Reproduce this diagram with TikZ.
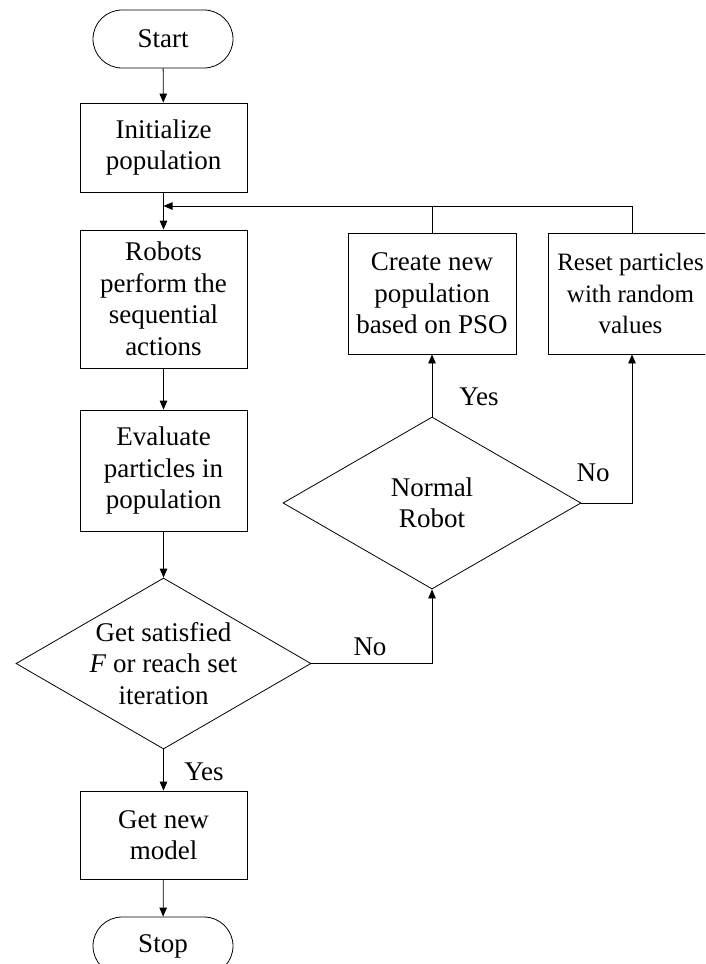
\documentclass[tikz,border=0pt]{standalone}
\usepackage{fontspec}
\setmainfont{Liberation Serif}
\usetikzlibrary{arrows.meta,shapes.geometric}

\begin{document}
\begin{tikzpicture}[x=1pt,y=-1pt,
  line width=0.8pt,
  every node/.style={font=\fontsize{27}{31.5}\selectfont},
  box/.style={draw, rectangle, minimum width=167pt, inner sep=0pt, align=center},
  terminal/.style={draw, rectangle, rounded corners=29pt, minimum width=140pt,
                   minimum height=58pt, inner sep=0pt},
  decision/.style={draw, diamond, inner sep=0pt},
  txt/.style={align=center, inner sep=0pt},
  flow/.style={-{Triangle[length=9pt,width=7.5pt]}}]

\useasboundingbox (0,0) rectangle (705,964);
\clip (0,0) rectangle (705,964);

% main column
\node[terminal] (start) at (163,39) {Start};
\node[box, minimum height=89pt] (init) at (163.5,147.5) {Initialize\\population};
\node[box, minimum height=138pt] (robots) at (163.5,299) {Robots\\perform the\\sequential\\actions};
\node[box, minimum height=121pt] (eval) at (163.5,470.5) {Evaluate\\particles in\\population};
\node[decision, minimum width=295pt, minimum height=171pt] (check) at (163.5,663.5) {};
\node[txt] at (check) {Get satisfied\\\textit{F} or reach set\\iteration};
\node[box, minimum height=88pt] (model) at (163.5,835) {Get new\\model};
\node[terminal] (stop) at (163,946) {Stop};

% right branch
\node[decision, minimum width=298pt, minimum height=172pt] (normal) at (432,503) {};
\node[txt] at (normal) {Normal\\Robot};
\node[box, minimum width=168pt, minimum height=121pt] (create) at (432,293.5) {Create new\\population\\based on PSO};
\node[box, minimum width=168pt, minimum height=121pt] (reset) at (632,293.5) {};
\node[txt, font=\fontsize{25}{31.5}\selectfont] at ([xshift=-1.5pt]reset.center)
  {Reset particles\\with random\\values};

\coordinate (join) at (163.5,206);

% connectors
\draw[flow] (start) -- (init);
\draw[flow] (init) -- (robots);
\draw[flow] (robots) -- (eval);
\draw[flow] (eval) -- (check);
\draw[flow] (check) -- (model);
\draw[flow] (model) -- (stop);
\draw[flow] (check.east) -| (normal.south);
\draw[flow] (normal.north) -- (create.south);
\draw[flow] (normal.east) -| (reset.south);
\draw (create.north) -- (create.north |- join);
\draw[flow] (reset.north) |- (join);

% branch labels
\node at (204,772) {Yes};
\node at (370,647) {No};
\node at (479,397) {Yes};
\node at (593,473) {No};
\end{tikzpicture}
\end{document}
